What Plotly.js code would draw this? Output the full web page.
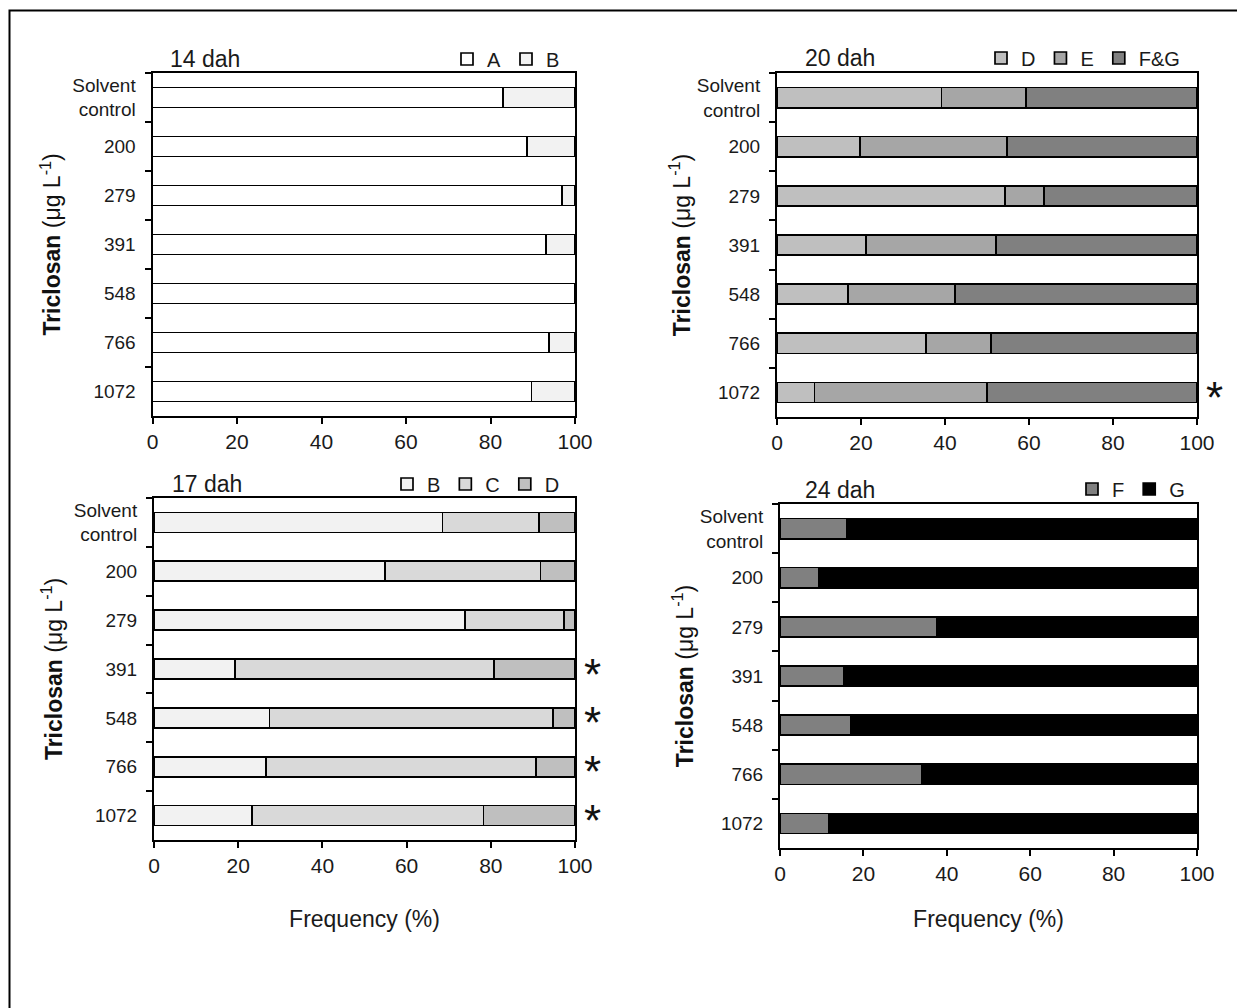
<!DOCTYPE html>
<html>
<head>
<meta charset="utf-8">
<script src="https://cdn.plot.ly/plotly-3.0.1.min.js"></script>
<style>html,body{margin:0;padding:0;background:#fff;}#chart{width:1237px;height:1008px;}</style>
</head>
<body>
<div id="chart"></div>
<script>
// ---------- data ----------
const concentrations = ['Solvent<br>control', '200', '279', '391', '548', '766', '1072'];

// 14 dah
const dah14_A = [83.0, 88.7, 97.0, 93.1, 100.0, 93.9, 89.7];
const dah14_B = [17.0, 11.3, 3.0, 6.9, 0.0, 6.1, 10.3];

// 20 dah
const dah20_D  = [39.2, 19.7, 54.3, 21.2, 16.9, 35.4, 8.9];
const dah20_E  = [20.1, 35.0, 9.2, 31.0, 25.5, 15.6, 41.1];
const dah20_FG = [40.7, 45.3, 36.5, 47.8, 57.6, 49.0, 50.0];
const dah20_sig = ['', '', '', '', '', '', '*'];

// 17 dah
const dah17_B = [68.5, 54.9, 73.9, 19.3, 27.4, 26.6, 23.2];
const dah17_C = [22.9, 36.9, 23.5, 61.4, 67.3, 64.1, 55.1];
const dah17_D = [8.6, 8.2, 2.6, 19.3, 5.3, 9.3, 21.7];
const dah17_sig = ['', '', '', '*', '*', '*', '*'];

// 24 dah
const dah24_F = [16.1, 9.3, 37.5, 15.3, 17.0, 33.9, 11.8];
const dah24_G = [83.9, 90.7, 62.5, 84.7, 83.0, 66.1, 88.2];

const panelTitles = ['14 dah', '20 dah', '17 dah', '24 dah'];

// ---------- styling ----------
const FONT = 'Liberation Sans, Arial, sans-serif';
const TXT = '#1a1a1a';
const col = {A:'#ffffff', B:'#f2f2f2', C:'#d9d9d9', D:'#bfbfbf', E:'#a6a6a6', FG:'#808080', F:'#808080', G:'#000000'};

function bar(name, xs, color, axX, axY, legend) {
  return {
    type: 'bar', orientation: 'h', name: name,
    x: xs, y: concentrations,
    xaxis: axX, yaxis: axY, legend: legend,
    width: 0.41,
    marker: {color: color, line: {color: '#000', width: 1.7}},
    hoverinfo: 'x+name'
  };
}

const traces = [
  bar('A', dah14_A, col.A, 'x', 'y', 'legend'),
  bar('B', dah14_B, col.B, 'x', 'y', 'legend'),
  bar('D', dah20_D, col.D, 'x2', 'y2', 'legend2'),
  bar('E', dah20_E, col.E, 'x2', 'y2', 'legend2'),
  bar('F&G', dah20_FG, col.FG, 'x2', 'y2', 'legend2'),
  bar('B', dah17_B, col.B, 'x3', 'y3', 'legend3'),
  bar('C', dah17_C, col.C, 'x3', 'y3', 'legend3'),
  bar('D', dah17_D, col.D, 'x3', 'y3', 'legend3'),
  bar('F', dah24_F, col.F, 'x4', 'y4', 'legend4'),
  bar('G', dah24_G, col.G, 'x4', 'y4', 'legend4')
];

const W = 1237, H = 1008;
const px = v => v / W;
const py = v => 1 - v / H;

function xax(x0, x1, titleStandoff) {
  const a = {
    domain: [px(x0), px(x1)], range: [0, 100], dtick: 20, tick0: 0,
    showline: true, linecolor: '#000', linewidth: 2, mirror: true,
    ticks: 'outside', ticklen: 6, tickwidth: 2, tickcolor: '#000',
    showgrid: false, zeroline: false, fixedrange: true,
    tickfont: {family: FONT, size: 21, color: TXT}
  };
  if (titleStandoff !== undefined) a.title = {text: 'Frequency (%)', font: {family: FONT, size: 23, color: TXT}, standoff: titleStandoff};
  return a;
}
function yax(y0, y1, anchor, standoff) {
  return {
    domain: [py(y1), py(y0)], anchor: anchor, type: 'category',
    categoryorder: 'array', categoryarray: concentrations,
    range: [6.5, -0.5],
    showline: true, linecolor: '#000', linewidth: 2, mirror: true,
    ticks: 'outside', ticklen: 6, tickwidth: 2, tickcolor: '#000', tickson: 'boundaries',
    ticklabelstandoff: 11,
    showgrid: false, zeroline: false, fixedrange: true,
    tickfont: {family: FONT, size: 19, color: TXT},
    title: {text: '<b>Triclosan</b> (μg L<sup>-1</sup>)', font: {family: FONT, size: 23, color: '#111'}, standoff: standoff}
  };
}

function legendAt(xRight, yMid) {
  return {
    orientation: 'h', xref: 'paper', yref: 'paper', x: px(xRight), xanchor: 'right',
    y: py(yMid), yanchor: 'middle', traceorder: 'normal',
    font: {family: FONT, size: 20, color: TXT}, bgcolor: 'rgba(0,0,0,0)',
    itemclick: false, itemdoubleclick: false, tracegroupgap: 0
  };
}

const annotations = [];
const titlePos = [[168, 59], [803, 58], [170, 484], [803, 490]];
panelTitles.forEach((t, i) => {
  annotations.push({
    xref: 'paper', yref: 'paper', x: px(titlePos[i][0]), y: py(titlePos[i][1]),
    xanchor: 'left', yanchor: 'middle', showarrow: false, text: t,
    font: {family: FONT, size: 23, color: TXT}
  });
});
// significance marks: category axes take the category's serial number as position
function stars(sig, axX, axY) {
  sig.forEach((s, i) => {
    if (!s) return;
    annotations.push({
      xref: axX + ' domain', yref: axY, x: 1, y: concentrations.indexOf(concentrations[i]),
      xanchor: 'left', yanchor: 'middle',
      xshift: 7, yshift: -5, showarrow: false, text: s,
      font: {family: FONT, size: 44, color: '#111'}
    });
  });
}
stars(dah20_sig, 'x2', 'y2');
stars(dah17_sig, 'x3', 'y3');

const layout = {
  width: W, height: H,
  margin: {l: 0, r: 0, t: 0, b: 0},
  paper_bgcolor: '#fff', plot_bgcolor: '#fff',
  barmode: 'stack', bargap: 0.59,
  font: {family: FONT, color: TXT},
  xaxis:  xax(152.5, 575),
  yaxis:  yax(73, 416, 'x', 5),
  xaxis2: Object.assign(xax(777, 1197), {anchor: 'y2'}),
  yaxis2: yax(73, 417, 'x2', 0),
  xaxis3: Object.assign(xax(154, 575, 35), {anchor: 'y3'}),
  yaxis3: yax(498, 840, 'x3', 5),
  xaxis4: Object.assign(xax(780, 1197, 27), {anchor: 'y4'}),
  yaxis4: yax(504, 848, 'x4', 0),
  legend:  legendAt(565, 59),
  legend2: legendAt(1185, 58),
  legend3: legendAt(565, 484),
  legend4: legendAt(1190, 489),
  annotations: annotations,
  shapes: [{
    type: 'rect', xref: 'paper', yref: 'paper',
    x0: px(9.5), x1: px(1260), y0: py(10.5), y1: py(1030),
    line: {color: '#000', width: 2}, fillcolor: 'rgba(0,0,0,0)', layer: 'below'
  }],
  showlegend: true
};

Plotly.newPlot('chart', traces, layout, {staticPlot: true, displayModeBar: false});
</script>
</body>
</html>
